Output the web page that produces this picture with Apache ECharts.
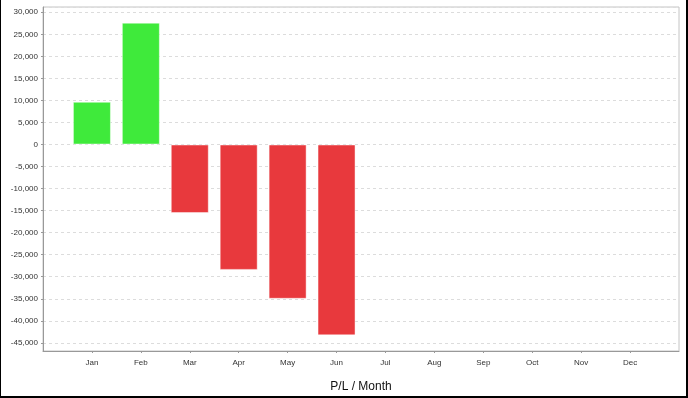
<!DOCTYPE html>
<html>
<head>
<meta charset="utf-8">
<script src="https://cdn.jsdelivr.net/npm/echarts@6/dist/echarts.min.js"></script>
<style>
	html, body { margin: 0; padding: 0; background: #fff; }
	#plChart { position: absolute; left: 0; top: 0; width: 688px; height: 398px; }
	#frame { position: absolute; left: 0; top: 0; width: 688px; height: 398px; box-sizing: border-box;
		border-left: 1px solid #000; border-right: 2px solid #000; border-bottom: 2px solid #000; pointer-events: none; }
</style>
</head>
<body>
<div id="plChart"></div>
<div id="frame"></div>
<script>
// 月份（前后各留一个空位）
var months = ['', 'Jan', 'Feb', 'Mar', 'Apr', 'May', 'Jun', 'Jul', 'Aug', 'Sep', 'Oct', 'Nov', 'Dec', ''];
// 每月盈亏
var plValues = [null, 9700, 27650, -15550, -28450, -35000, -43300, null, null, null, null, null, null, null];
var upColor = '#3fea3b';
var downColor = '#e8393d';
var axisMin = -46850;
var axisMax = 31200;

var myChart = echarts.init(document.getElementById('plChart'));

function fmtNum(v) {
	if (v % 5000 !== 0) {
		return '';
	}
	return echarts.format.addCommas(v);
}

var barData = [];
for (var i = 0; i < plValues.length; i++) {
	var v = plValues[i];
	barData.push({
		value : v,
		itemStyle : {
			color : v >= 0 ? upColor : downColor,
			borderColor : 'rgba(255,255,255,0.45)',
			borderWidth : 1
		}
	});
}

var option = {
	animation : false,
	textStyle : {
		fontFamily : 'Liberation Sans'
	},
	grid : {
		left : 43,
		right : 9,
		top : 7,
		bottom : 45,
		show : true,
		borderColor : '#c4c4c4',
		borderWidth : 1
	},
	xAxis : {
		type : 'category',
		data : months,
		boundaryGap : false,
		name : 'P/L / Month',
		nameLocation : 'middle',
		nameGap : 30,
		nameTextStyle : {
			fontSize : 12,
			color : '#111'
		},
		axisLine : {
			onZero : false,
			lineStyle : { color : '#999', width : 1 }
		},
		axisTick : {
			length : 2,
			interval : function(idx) {
				return idx > 0 && idx < months.length - 1;
			},
			lineStyle : { color : '#999' }
		},
		axisLabel : {
			fontSize : 8,
			color : '#333',
			margin : 8,
			interval : 0
		},
		splitLine : { show : false }
	},
	yAxis : {
		type : 'value',
		min : axisMin,
		max : axisMax,
		splitNumber : 15,
		axisLine : {
			show : true,
			lineStyle : { color : '#999', width : 1 }
		},
		axisTick : {
			show : true,
			length : 2,
			lineStyle : { color : '#999' }
		},
		axisLabel : {
			fontSize : 8,
			color : '#333',
			margin : 5,
			showMinLabel : false,
			showMaxLabel : false,
			formatter : fmtNum
		},
		splitLine : {
			show : true,
			lineStyle : { color : '#dcdcdc', type : [3, 3] }
		}
	},
	series : [{
		type : 'bar',
		barWidth : 38,
		data : barData
	}]
};
myChart.setOption(option);
</script>
</body>
</html>
